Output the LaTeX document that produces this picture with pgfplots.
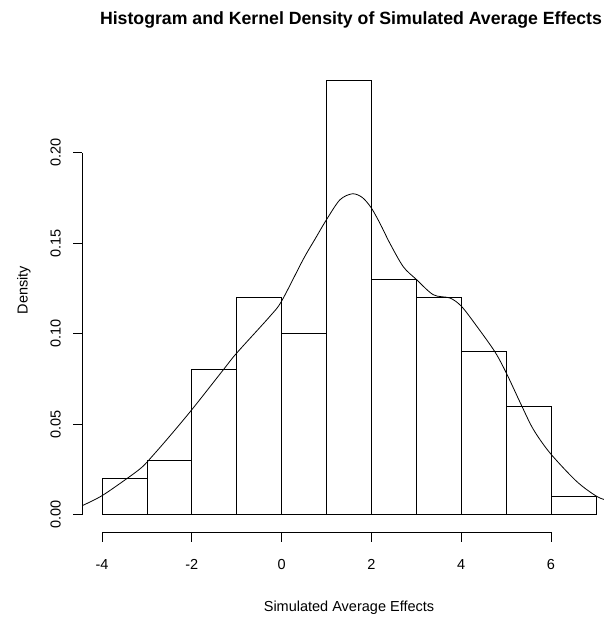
\documentclass[border=0pt]{standalone}
\usepackage{fontspec}
\setmainfont{Liberation Sans}
\usepackage{pgfplots}
\usetikzlibrary{calc}
\pgfplotsset{compat=1.18}
\pgfplotstableread{
x y
-4 0.02
-3 0.03
-2 0.08
-1 0.12
0 0.10
1 0.24
2 0.13
3 0.12
4 0.09
5 0.06
6 0.01
7 0.01
}\histdata
\pgfplotstableread{
x y
-4.44 0.0050
-4.00 0.0105
-3.42 0.0204
-3.15 0.0254
-3.00 0.0290
-2.56 0.0414
-2.00 0.0580
-1.30 0.0800
-1.00 0.0893
-0.26 0.1096
0.00 0.1180
0.48 0.1410
0.75 0.1525
1.00 0.1630
1.30 0.1740
1.58 0.1773
1.80 0.1752
2.00 0.1694
2.20 0.1605
2.41 0.1500
2.71 0.1370
3.00 0.1300
3.38 0.1215
3.75 0.1197
4.01 0.1150
4.35 0.1040
4.75 0.0900
5.01 0.0780
5.35 0.0600
5.61 0.0470
5.98 0.0340
6.57 0.0184
7.02 0.0101
7.30 0.0075
}\densdata
\begin{document}
\begin{tikzpicture}[x=1bp,y=1bp]
\useasboundingbox (0,0) rectangle (604,617);
\begin{axis}[
  anchor=origin, at={(281.6bp,102.3bp)},
  x=44.9bp, y=1810bp,
  xmin=-4.44, xmax=7.20, ymin=-0.0096, ymax=0.2496,
  hide axis, clip=true, clip mode=individual,
]
\addplot[ybar interval, draw=black, fill=white, line width=0.8bp] table {\histdata};
\addplot[smooth, tension=0.5, black, line width=0.8bp, mark=none] table {\densdata};
% x axis
\draw[line width=0.8bp] (axis cs:-4,-0.0096) -- (axis cs:6,-0.0096);
\pgfplotsinvokeforeach{-4,-2,0,2,4,6}{
  \draw[line width=0.8bp] (axis cs:#1,-0.0096) -- ($(axis cs:#1,-0.0096)+(0pt,-10.4bp)$);
  \node[anchor=base, inner sep=0pt, font=\fontsize{14.5bp}{17bp}\selectfont] at ($(axis cs:#1,-0.0096)+(0pt,-37.6bp)$) {#1};
}
% y axis
\draw[line width=0.8bp] (axis cs:-4.44,0) -- (axis cs:-4.44,0.20);
\pgfplotsinvokeforeach{0.00,0.05,0.10,0.15,0.20}{
  \draw[line width=0.8bp] (axis cs:-4.44,#1) -- ($(axis cs:-4.44,#1)+(-9.4bp,0pt)$);
  \node[anchor=base, rotate=90, inner sep=0pt, font=\fontsize{14.5bp}{17bp}\selectfont] at ($(axis cs:-4.44,#1)+(-21.5bp,0pt)$) {#1};
}
\end{axis}
\node[font=\fontsize{14.5bp}{17bp}\selectfont] at (349,9) {Simulated Average Effects};
\node[rotate=90, font=\fontsize{14.5bp}{17bp}\selectfont] at (24,327) {Density};
\node[font=\bfseries\fontsize{17.7bp}{20bp}\selectfont] at (351,597) {Histogram and Kernel Density of Simulated Average Effects};
\end{tikzpicture}
\end{document}
